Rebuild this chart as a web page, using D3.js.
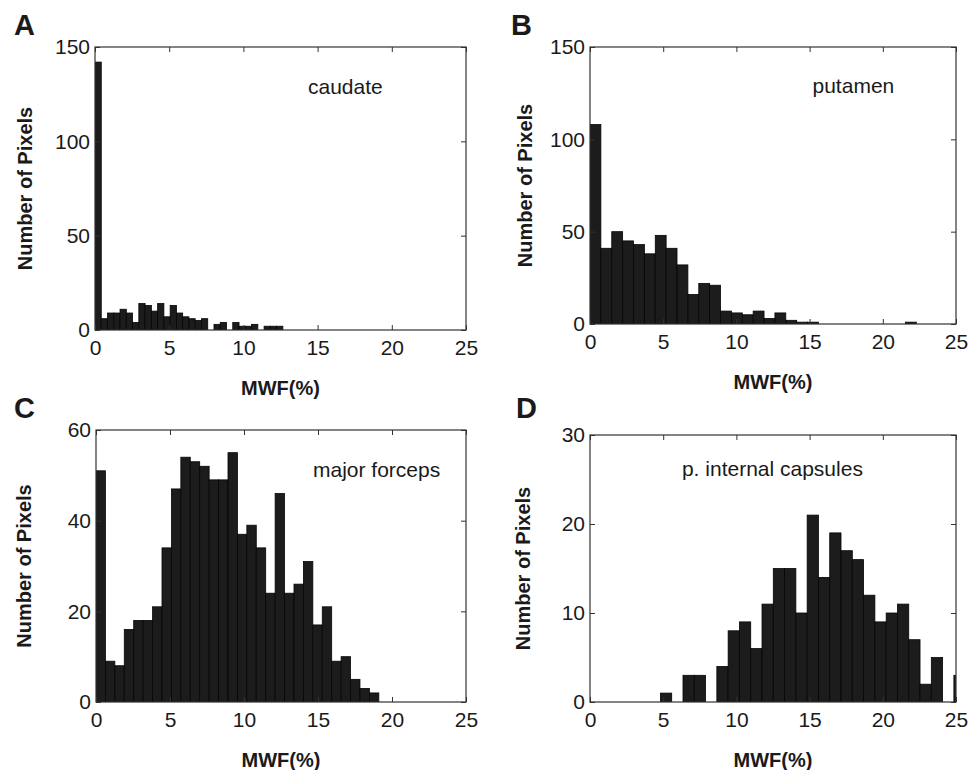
<!DOCTYPE html>
<html>
<head>
<meta charset="utf-8">
<script src="https://cdn.jsdelivr.net/npm/d3@7/dist/d3.min.js"></script>
<style>
  body { margin: 0; background: #fff; }
  svg text { font-family: "Liberation Sans", Arial, Helvetica, sans-serif; fill: #1a1a1a; }
</style>
</head>
<body>
<div id="chart"></div>
<script>
// x axis ticks shared by every panel (MWF in %)
var mwfTicks = [0, 5, 10, 15, 20, 25];

// A - caudate (30 bins starting at 0)
var caudateStart = 0;
var caudateBinWidth = 0.422;
var caudateCounts = [142, 6, 9, 9, 11, 9, 4, 14, 13, 10, 14, 7, 13, 9, 7, 6, 5, 6, 0, 3, 4, 0, 4, 2, 2, 3, 0, 2, 2, 2];
var caudateYTicks = [0, 50, 100, 150];

// B - putamen
var putamenStart = 0;
var putamenBinWidth = 0.743;
var putamenCounts = [108, 41, 50, 45, 43, 38, 48, 41, 32, 16, 22, 21, 7, 6, 5, 7, 3, 6, 2, 1, 1, 0, 0, 0, 0, 0, 0, 0, 0, 1];
var putamenYTicks = [0, 50, 100, 150];

// C - major forceps
var forcepsStart = 0;
var forcepsBinWidth = 0.637;
var forcepsCounts = [51, 9, 8, 16, 18, 18, 21, 34, 47, 54, 53, 52, 49, 49, 55, 37, 39, 34, 24, 46, 24, 26, 31, 17, 21, 9, 10, 5, 3, 2];
var forcepsYTicks = [0, 20, 40, 60];

// D - posterior internal capsules (last bin runs past 25 and gets clipped)
var capsuleStart = 4.81;
var capsuleBinWidth = 0.771;
var capsuleCounts = [1, 0, 3, 3, 0, 4, 8, 9, 6, 11, 15, 15, 10, 21, 14, 19, 17, 16, 12, 9, 10, 11, 7, 2, 5, 0, 3];
var capsuleYTicks = [0, 10, 20, 30];

var width = 972, height = 770;
var fontStack = '"Liberation Sans", Arial, Helvetica, sans-serif';

// panel layout (pixel boxes of the plot areas) + labels
var panels = [
  { letter: 'A', name: 'caudate', start: caudateStart, bw: caudateBinWidth, counts: caudateCounts, yTicks: caudateYTicks,
    left: 95, top: 47, w: 371, h: 283, letterX: 14, letterY: 35, titleX: 25, nameX: 14.35, nameY: 129 },
  { letter: 'B', name: 'putamen', start: putamenStart, bw: putamenBinWidth, counts: putamenCounts, yTicks: putamenYTicks,
    left: 590, top: 47, w: 366, h: 277, letterX: 511, letterY: 35, titleX: 525, nameX: 15.2, nameY: 129.4 },
  { letter: 'C', name: 'major forceps', start: forcepsStart, bw: forcepsBinWidth, counts: forcepsCounts, yTicks: forcepsYTicks,
    left: 96, top: 430, w: 370, h: 272, letterX: 14, letterY: 418, titleX: 24, nameX: 14.66, nameY: 51.2 },
  { letter: 'D', name: 'p. internal capsules', start: capsuleStart, bw: capsuleBinWidth, counts: capsuleCounts, yTicks: capsuleYTicks,
    left: 590, top: 435, w: 366, h: 267, letterX: 516, letterY: 418, titleX: 523, nameX: 6.28, nameY: 26.2 }
];

var svg = d3.select('#chart')
  .append('svg')
  .attr('width', width)
  .attr('height', height);

function styleAxis(g) {
  g.select('.domain').remove();
  g.selectAll('line').attr('stroke', '#333').attr('stroke-width', 1);
  g.selectAll('text')
    .attr('fill', '#1a1a1a')
    .style('font-size', '21px')
    .style('font-family', fontStack);
}

panels.forEach(function (p, idx) {
  var x = d3.scaleLinear().domain([0, 25]).range([0, p.w]);
  var y = d3.scaleLinear().domain([0, d3.max(p.yTicks)]).range([p.h, 0]);

  var bins = p.counts.map(function (c, i) {
    return { x0: p.start + i * p.bw, x1: p.start + (i + 1) * p.bw, count: c };
  }).filter(function (d) { return d.count > 0; });

  // panel letter
  svg.append('text')
    .attr('x', p.letterX)
    .attr('y', p.letterY)
    .style('font-size', '29px')
    .style('font-weight', 'bold')
    .text(p.letter);

  var g = svg.append('g')
    .attr('transform', 'translate(' + p.left + ',' + p.top + ')');

  g.append('clipPath')
    .attr('id', 'clip' + idx)
    .append('rect')
    .attr('width', p.w)
    .attr('height', p.h);

  g.append('g')
    .attr('clip-path', 'url(#clip' + idx + ')')
    .selectAll('rect')
    .data(bins)
    .enter()
    .append('rect')
    .attr('x', d => x(d.x0))
    .attr('width', d => x(d.x1) - x(d.x0))
    .attr('y', d => y(d.count))
    .attr('height', d => y(0) - y(d.count))
    .attr('fill', '#1c1c1c')
    .attr('stroke', '#050505')
    .attr('stroke-width', 0.8);

  // inward ticks on all four sides, labels only bottom/left
  g.append('g')
    .attr('transform', 'translate(0,' + p.h + ')')
    .call(d3.axisBottom(x).tickValues(mwfTicks).tickSizeInner(-5).tickSizeOuter(0).tickPadding(10))
    .call(styleAxis);

  g.append('g')
    .call(d3.axisTop(x).tickValues(mwfTicks).tickSizeInner(-5).tickSizeOuter(0).tickFormat(''))
    .call(styleAxis);

  g.append('g')
    .call(d3.axisLeft(y).tickValues(p.yTicks).tickSizeInner(-5).tickSizeOuter(0).tickPadding(5))
    .call(styleAxis);

  g.append('g')
    .attr('transform', 'translate(' + p.w + ',0)')
    .call(d3.axisRight(y).tickValues(p.yTicks).tickSizeInner(-5).tickSizeOuter(0).tickFormat(''))
    .call(styleAxis);

  // box
  g.append('rect')
    .attr('width', p.w)
    .attr('height', p.h)
    .attr('fill', 'none')
    .attr('stroke', '#333')
    .attr('stroke-width', 1.2);

  // region name
  g.append('text')
    .attr('x', x(p.nameX))
    .attr('y', y(p.nameY))
    .attr('dominant-baseline', 'central')
    .style('font-size', '21px')
    .text(p.name);

  // axis titles
  g.append('text')
    .attr('x', p.w / 2)
    .attr('y', p.h + 58)
    .attr('text-anchor', 'middle')
    .attr('dominant-baseline', 'central')
    .style('font-size', '20px')
    .style('font-weight', 'bold')
    .text('MWF(%)');

  svg.append('text')
    .attr('transform', 'translate(' + p.titleX + ',' + (p.top + p.h / 2) + ') rotate(-90)')
    .attr('text-anchor', 'middle')
    .attr('dominant-baseline', 'central')
    .style('font-size', '20px')
    .style('font-weight', 'bold')
    .text('Number of Pixels');
});
</script>
</body>
</html>
